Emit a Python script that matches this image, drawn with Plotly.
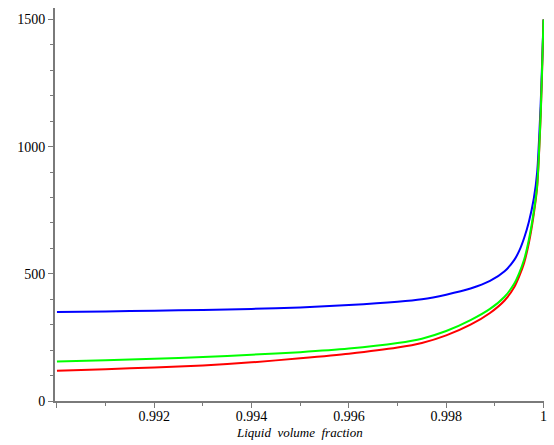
import plotly.graph_objects as go

# values
x_vals = [0.9900, 0.9910, 0.9920, 0.9930, 0.9940, 0.9950, 0.9960, 0.9970, 0.9975,
          0.9980, 0.9985, 0.9989, 0.9992, 0.9994, 0.9995, 0.9996, 0.9997, 0.9998,
          0.99987, 0.99994, 0.99997, 1.0000]
blue_vals = [350, 352, 355, 358, 362, 368, 377, 390, 400, 418, 442, 472, 510, 555,
             590, 640, 705, 795, 900, 1160, 1320, 1500]
green_vals = [155, 160, 166, 173, 182, 192, 206, 228, 245, 275, 318, 362, 410, 462,
              503, 555, 635, 745, 850, 1120, 1300, 1500]
red_vals = [119, 125, 132, 140, 152, 168, 186, 210, 228, 258, 300, 346, 395, 448,
            490, 542, 622, 735, 843, 1112, 1290, 1500]

x_ticks = [0.990, 0.992, 0.994, 0.996, 0.998, 1.0]
x_labels = ['', '0.992', '0.994', '0.996', '0.998', '1']
y_ticks = [0, 500, 1000, 1500]

fig = go.Figure()
# green drawn last so it sits on top like in the original
for vals, col in [(blue_vals, '#0000ff'), (red_vals, '#ff0000'), (green_vals, '#00ff00')]:
    fig.add_trace(go.Scatter(x=x_vals, y=vals, mode='lines',
                             line=dict(color=col, width=2, shape='spline', smoothing=0.7),
                             showlegend=False, hoverinfo='skip'))

axis_font = dict(family='Liberation Serif', size=14, color='black')
fig.update_layout(
    width=554, height=445,
    margin=dict(l=55, r=10, t=8, b=44),
    paper_bgcolor='white', plot_bgcolor='white',
    xaxis=dict(range=[0.98996, 1.00001], showgrid=False, zeroline=False, automargin=False,
               showline=True, linecolor='#7a7a7a', linewidth=2,
               tickmode='array', tickvals=x_ticks, ticktext=x_labels,
               ticks='outside', ticklen=5, tickcolor='#7a7a7a', tickwidth=1,
               ticklabelstandoff=-4,
               minor=dict(dtick=0.001, tick0=0.99, ticks='outside', ticklen=3,
                          tickcolor='#7a7a7a', tickwidth=1),
               tickfont=axis_font),
    yaxis=dict(range=[0, 1545], showgrid=False, zeroline=False, automargin=False,
               showline=True, linecolor='#7a7a7a', linewidth=2,
               tickmode='array', tickvals=y_ticks,
               ticks='outside', ticklen=5, tickcolor='#7a7a7a', tickwidth=1,
               minor=dict(dtick=100, tick0=0, ticks='outside', ticklen=3,
                          tickcolor='#7a7a7a', tickwidth=1),
               tickfont=axis_font),
)

# axis title placed as an annotation so it sits just under the tick labels
fig.add_annotation(text='Liquid\u00a0\u00a0volume\u00a0\u00a0fraction',
                   xref='paper', yref='paper', x=0.5, y=-0.079, yanchor='middle',
                   showarrow=False,
                   font=dict(family='Liberation Serif', size=13, color='black',
                             style='italic'))

# drop the browser's default page margin so the figure fills the window
fig.write_html("out.html", config={'displayModeBar': False},
               post_script="document.body.style.margin = '0';")
